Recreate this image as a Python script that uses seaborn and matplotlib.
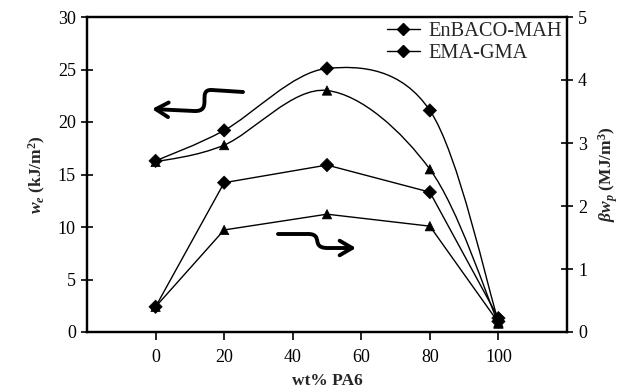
import numpy as np
import pandas as pd
import matplotlib
matplotlib.use("Agg")
import matplotlib.pyplot as plt
import seaborn as sns
from matplotlib.path import Path
from matplotlib.patches import PathPatch, FancyArrowPatch
from matplotlib.lines import Line2D

# ---- data ----
wt_pa6 = [0, 20, 50, 80, 100]
we_enbaco = [16.3, 19.2, 25.1, 21.1, 1.0]      # left axis, kJ/m2 (diamonds)
we_ema = [16.2, 17.8, 23.0, 15.5, 0.8]         # left axis, kJ/m2 (triangles)
bwp_enbaco = [0.40, 2.37, 2.65, 2.22, 0.22]    # right axis, MJ/m3 (diamonds)
bwp_ema = [0.40, 1.62, 1.87, 1.68, 0.15]       # right axis, MJ/m3 (triangles)
left_ticks = [0, 5, 10, 15, 20, 25, 30]
right_ticks = [0, 1, 2, 3, 4, 5]
x_ticks = [0, 20, 40, 60, 80, 100]
legend_labels = ["EnBACO-MAH", "EMA-GMA"]

sns.set_theme(style="white")
plt.rcParams["font.family"] = ["Liberation Serif", "DejaVu Serif"]
plt.rcParams["mathtext.fontset"] = "custom"
plt.rcParams["mathtext.rm"] = "Liberation Serif"
plt.rcParams["mathtext.it"] = "Liberation Serif:italic:bold"
plt.rcParams["mathtext.bf"] = "Liberation Serif:bold"

fig = plt.figure(figsize=(6.27, 3.92), dpi=100)
ax = fig.add_axes([87/627, 1-332/392, (567-87)/627, (332-17)/392])
ax2 = ax.twinx()

def smooth_path(xs, ys):
    pts = np.column_stack([xs, ys]).astype(float)
    n = len(pts)
    verts = [pts[0]]
    codes = [Path.MOVETO]
    for i in range(n - 1):
        p0 = pts[i - 1] if i > 0 else pts[i]
        p1 = pts[i]
        p2 = pts[i + 1]
        p3 = pts[i + 2] if i + 2 < n else pts[i + 1]
        c1 = p1 + (p2 - p0) / 6.0
        c2 = p2 - (p3 - p1) / 6.0
        verts += [c1, c2, p2]
        codes += [Path.CURVE4] * 3
    return Path(verts, codes)

mk = {legend_labels[0]: "D", legend_labels[1]: "^"}
df_left = pd.DataFrame({"x": wt_pa6 * 2, "y": we_enbaco + we_ema,
                        "s": [legend_labels[0]] * 5 + [legend_labels[1]] * 5})
df_right = pd.DataFrame({"x": wt_pa6 * 2, "y": bwp_enbaco + bwp_ema,
                         "s": [legend_labels[0]] * 5 + [legend_labels[1]] * 5})

# upper smoothed curves (left axis)
for ys in (we_enbaco, we_ema):
    ax.add_patch(PathPatch(smooth_path(wt_pa6, ys), facecolor="none",
                           edgecolor="black", lw=1.0, zorder=2))
sns.scatterplot(data=df_left, x="x", y="y", style="s", markers=mk,
                color="black", s=46, edgecolor="black", linewidth=0.5, legend=False, ax=ax, zorder=3)

# lower straight curves (right axis)
sns.lineplot(data=df_right, x="x", y="y", units="s", estimator=None, color="black",
             lw=1.0, ax=ax2, legend=False, zorder=2)
sns.scatterplot(data=df_right, x="x", y="y", style="s", markers=mk,
                color="black", s=46, edgecolor="black", linewidth=0.5, legend=False, ax=ax2, zorder=3)

ax.set_xlim(-20, 120)
ax.set_ylim(0, 30)
ax2.set_ylim(0, 5)
ax.set_xticks(x_ticks)
ax.set_yticks(left_ticks)
ax2.set_yticks(right_ticks)

for a in (ax, ax2):
    for sp in a.spines.values():
        sp.set_visible(True)
        sp.set_color("black")
        sp.set_linewidth(1.6)
    a.set_xlabel("")
    a.set_ylabel("")

ax.tick_params(axis="y", which="both", left=True, direction="inout", length=8, width=1.2,
               labelsize=13, colors="black", pad=4)
ax.tick_params(axis="x", bottom=True, direction="out", length=6, width=1.2,
               labelsize=13, colors="black", pad=6)
ax2.tick_params(axis="y", right=True, direction="inout", length=8, width=1.2,
                labelsize=13, colors="black", pad=4)

ax.set_xlabel("wt% PA6", fontsize=12.5, fontweight="bold", labelpad=5)
ax.set_ylabel(r"$\mathit{w_e}$ $\mathbf{(kJ/m^2)}$", fontsize=12.5, labelpad=7)
ax2.set_ylabel(r"$\mathit{\beta w_p}$ $\mathbf{(MJ/m^3)}$", fontsize=12.5, labelpad=7,
               rotation=90, va="top")

# legend
handles = [Line2D([], [], color="black", lw=1.0, marker="D", markersize=6),
           Line2D([], [], color="black", lw=1.0, marker="D", markersize=6)]
ax2.legend(handles, legend_labels, loc="upper right", frameon=False, fontsize=14.7,
           handlelength=1.65, handletextpad=0.4, labelspacing=0.12,
           bbox_to_anchor=(1.0, 1.0), borderaxespad=0.1, borderpad=0.15)

# hand-drawn style arrows (axes fraction coords)
def px(xp, yp):
    return ((xp - 87) / 480.0, (332 - yp) / 315.0)

codes = [Path.MOVETO, Path.LINETO, Path.CURVE4, Path.CURVE4, Path.CURVE4, Path.LINETO]
v1 = [px(243, 92), px(212, 90), px(196, 89), px(214, 112), px(194, 111), px(152, 109)]
v2 = [px(278, 234), px(306, 234), px(326, 233), px(308, 249), px(330, 248), px(356, 248)]
for v in (v1, v2):
    ax.add_patch(FancyArrowPatch(path=Path(v, codes), arrowstyle="->,head_length=6,head_width=3.5",
                                 lw=2.8, color="black", transform=ax.transAxes, zorder=4,
                                 mutation_scale=1.5, capstyle="round", joinstyle="round"))

fig.savefig("out.png", dpi=100)
